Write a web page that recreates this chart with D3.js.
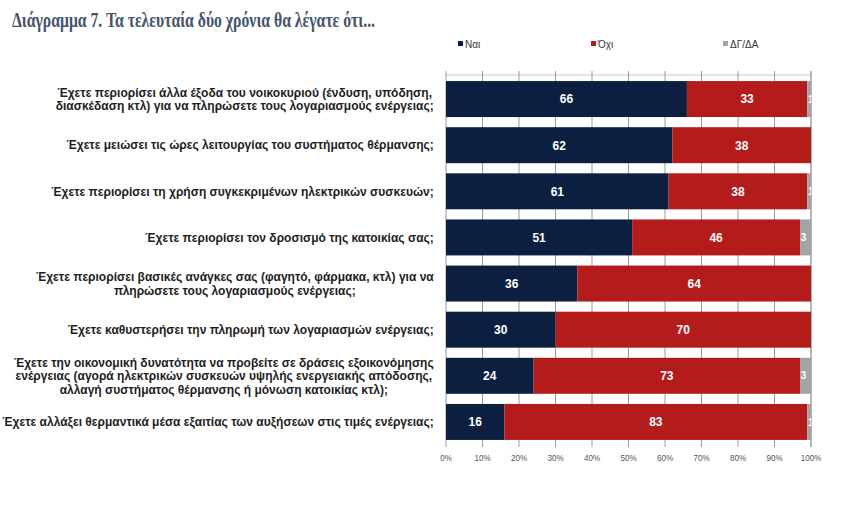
<!DOCTYPE html>
<html lang="el">
<head>
<meta charset="utf-8">
<title>Διάγραμμα 7</title>
<script src="https://cdnjs.cloudflare.com/ajax/libs/d3/7.8.5/d3.min.js"></script>
<style>
  body { margin: 0; background: #fff; }
  svg { display: block; }
</style>
</head>
<body>
<script>

// data
var categories = [
  ["Έχετε περιορίσει άλλα έξοδα του νοικοκυριού (ένδυση, υπόδηση,", "διασκέδαση κτλ) για να πληρώσετε τους λογαριασμούς ενέργειας;"],
  ["Έχετε μειώσει τις ώρες λειτουργίας του συστήματος θέρμανσης;"],
  ["Έχετε περιορίσει τη χρήση συγκεκριμένων ηλεκτρικών συσκευών;"],
  ["Έχετε περιορίσει τον δροσισμό της κατοικίας σας;"],
  ["Έχετε περιορίσει βασικές ανάγκες σας (φαγητό, φάρμακα, κτλ) για να", "πληρώσετε τους λογαριασμούς ενέργειας;"],
  ["Έχετε καθυστερήσει την πληρωμή των λογαριασμών ενέργειας;"],
  ["Έχετε την οικονομική δυνατότητα να προβείτε σε δράσεις εξοικονόμησης", "ενέργειας (αγορά ηλεκτρικών συσκευών υψηλής ενεργειακής απόδοσης,", "αλλαγή συστήματος θέρμανσης ή μόνωση κατοικίας κτλ);"],
  ["Έχετε αλλάξει θερμαντικά μέσα εξαιτίας των αυξήσεων στις τιμές ενέργειας;"]
];
var yes   = [66, 62, 61, 51, 36, 30, 24, 16];
var no    = [33, 38, 38, 46, 64, 70, 73, 83];
var dk    = [1, 0, 1, 3, 0, 0, 3, 1];
var seriesNames = ["Ναι", "Όχι", "ΔΓ/ΔΑ"];
var xTicks = [0, 10, 20, 30, 40, 50, 60, 70, 80, 90, 100];
var title = "Διάγραμμα 7. Τα τελευταία δύο χρόνια θα λέγατε ότι...";

var colors = ["#0c1f40", "#b41b1b", "#a3a3a3"];

var w = 841, h = 508;
var plotLeft = 446, plotRight = 811, plotTop = 76, plotBottom = 445;

var svg = d3.select("body").append("svg")
  .attr("width", w)
  .attr("height", h);

// title
svg.append("text")
  .attr("x", 12)
  .attr("y", 27)
  .attr("font-family", "Liberation Serif, serif")
  .attr("font-weight", "bold")
  .attr("font-size", 21)
  .attr("fill", "#44546a")
  .attr("textLength", 363)
  .attr("lengthAdjust", "spacingAndGlyphs")
  .text(title);

var rows = categories.map(function(c, i) {
  return { idx: i, lines: c, yes: yes[i], no: no[i], dk: dk[i] };
});

var x = d3.scaleLinear().domain([0, 100]).range([plotLeft, plotRight]);
var y = d3.scaleBand()
  .domain(d3.range(categories.length))
  .range([plotTop, plotBottom])
  .paddingInner(0.22)
  .paddingOuter(0.11);

// grid
svg.append("line")
  .attr("x1", plotLeft).attr("x2", plotRight)
  .attr("y1", plotTop - 1).attr("y2", plotTop - 1)
  .attr("stroke", "#c8c8c8");

svg.selectAll(".grid")
  .data(xTicks)
  .enter().append("line")
  .attr("class", "grid")
  .attr("x1", d => x(d)).attr("x2", d => x(d))
  .attr("y1", plotTop - 5).attr("y2", plotBottom + 2)
  .attr("stroke", d => d === 100 ? "#b5b5b5" : "#9a9a9a")
  .attr("stroke-width", d => d === 100 ? 2 : 1);

// stacked bars
var stack = d3.stack().keys(["yes", "no", "dk"]);
var layers = stack(rows);

svg.append("clipPath").attr("id", "plotclip")
  .append("rect")
  .attr("x", plotLeft).attr("y", 0)
  .attr("width", plotRight - plotLeft).attr("height", h);

var g = svg.append("g");

layers.forEach(function(layer, li) {
  g.selectAll(".bar" + li)
    .data(layer)
    .enter().append("rect")
    .attr("class", "bar" + li)
    .attr("x", d => x(d[0]))
    .attr("y", d => y(d.data.idx))
    .attr("width", d => x(d[1]) - x(d[0]))
    .attr("height", y.bandwidth())
    .attr("fill", colors[li]);
});

var lab = svg.append("g").attr("clip-path", "url(#plotclip)");
layers.forEach(function(layer, li) {
  lab.selectAll(".val" + li)
    .data(layer.filter(d => d[1] - d[0] > 0))
    .enter().append("text")
    .attr("class", "val" + li)
    .attr("x", d => (li === 2 ? x(d[0]) + 3.5 : (x(d[0]) + x(d[1])) / 2))
    .attr("y", d => y(d.data.idx) + y.bandwidth() / 2)
    .attr("dy", "0.36em")
    .attr("text-anchor", "middle")
    .attr("font-family", "Liberation Sans, Arial, sans-serif")
    .attr("font-weight", "bold")
    .attr("font-size", li === 2 ? 10 : 12)
    .attr("fill", "#fff")
    .text(d => d[1] - d[0]);
});

// category labels (narrow bold, centred block right-aligned to the axis)
var labelRight = 434;
var lineH = 13.5;
var rowG = svg.append("g").selectAll(".cat")
  .data(rows)
  .enter().append("g")
  .attr("class", "cat");

rowG.each(function(d) {
  var texts = d3.select(this).selectAll("text")
    .data(d.lines)
    .enter().append("text")
    .attr("text-anchor", "middle")
    .attr("font-family", "Liberation Sans, Arial, sans-serif")
    .attr("font-weight", "bold")
    .attr("font-size", 12)
    .attr("fill", "#1e1e1e")
    .attr("y", (t, j) => (j - (d.lines.length - 1) / 2) * lineH)
    .attr("dy", "0.35em")
    .text(t => t);
  d.maxW = d3.max(texts.nodes(), n => n.getComputedTextLength());
});

// horizontal squeeze so the widest label fits like the original
var widest = d3.max(rows, d => d.maxW);
var k = 432 / widest;
rowG.attr("transform", d =>
  "translate(" + (labelRight - d.maxW * k / 2) + "," + (y(d.idx) + y.bandwidth() / 2) + ") scale(" + k + ",1)");

// x tick labels
svg.selectAll(".xt")
  .data(xTicks)
  .enter().append("text")
  .attr("class", "xt")
  .attr("x", d => x(d))
  .attr("y", 461)
  .attr("text-anchor", "middle")
  .attr("font-family", "Liberation Sans, Arial, sans-serif")
  .attr("font-size", 9)
  .attr("fill", "#555")
  .attr("transform", d => "translate(" + x(d) * 0.1 + ",0) scale(0.9,1)")
  .text(d => d + "%");

// legend
var legendX = [458, 591, 723];
var leg = svg.selectAll(".leg")
  .data(seriesNames)
  .enter().append("g")
  .attr("class", "leg")
  .attr("transform", (d, i) => "translate(" + legendX[i] + ",44)");
leg.append("rect")
  .attr("x", 0).attr("y", -3)
  .attr("width", 5).attr("height", 5)
  .attr("fill", (d, i) => colors[i]);
leg.append("text")
  .attr("x", 7)
  .attr("y", 0)
  .attr("dy", "0.35em")
  .attr("font-family", "Liberation Sans, Arial, sans-serif")
  .attr("font-size", 10)
  .attr("fill", "#333")
  .text(d => d);

</script>
</body>
</html>
